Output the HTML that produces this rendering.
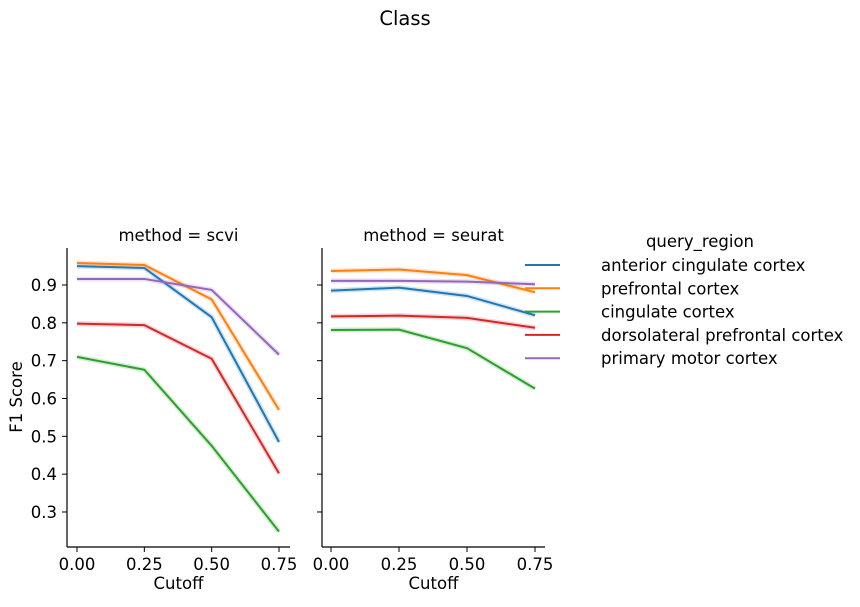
<!DOCTYPE html>
<html><head><meta charset="utf-8"><style>
body{margin:0;background:#fff;font-family:"Liberation Sans","DejaVu Sans",sans-serif;}
text{font-family:"DejaVu Sans","Liberation Sans",sans-serif;}
</style></head><body>
<svg id="chart" width="860" height="602" xmlns="http://www.w3.org/2000/svg">
<text x="405" y="25" font-size="19.5" text-anchor="middle">Class</text>
<g id="plotRoot"></g>
</svg>
<script>
const cutoffs=[0,0.25,0.5,0.75];
const seriesNames=["anterior cingulate cortex","prefrontal cortex","cingulate cortex","dorsolateral prefrontal cortex","primary motor cortex"];
const colors=["#1f77b4","#ff7f0e","#2ca02c","#d62728","#9467bd"];
const scviBlue=[0.95,0.945,0.815,0.485];
const scviOrange=[0.958,0.953,0.862,0.57];
const scviGreen=[0.71,0.676,0.475,0.248];
const scviRed=[0.798,0.794,0.705,0.402];
const scviPurple=[0.916,0.916,0.887,0.716];
const seuratBlue=[0.885,0.893,0.871,0.82];
const seuratOrange=[0.937,0.941,0.926,0.881];
const seuratGreen=[0.781,0.782,0.733,0.626];
const seuratRed=[0.817,0.819,0.813,0.787];
const seuratPurple=[0.911,0.911,0.909,0.902];
const yTicks=[0.3,0.4,0.5,0.6,0.7,0.8,0.9];
const xTicks=[0,0.25,0.5,0.75];
const xTickLabels=["0.00","0.25","0.50","0.75"];
const panels=[{title:"method = scvi",x0:77,x1:279,sl:67,sr:290,data:[scviBlue,scviOrange,scviGreen,scviRed,scviPurple],ylab:true},
{title:"method = seurat",x0:331,x1:535,sl:322,sr:545,data:[seuratBlue,seuratOrange,seuratGreen,seuratRed,seuratPurple],ylab:false}];
const NS="http://www.w3.org/2000/svg";
const root=document.getElementById("plotRoot");
const FS=16.5;
function yScale(v){return 285+(0.9-v)*378.3;}
function mk(t,a,p){const e=document.createElementNS(NS,t);for(const k in a)e.setAttribute(k,a[k]);(p||root).appendChild(e);return e;}
const axTop=248,axBot=547;
panels.forEach((P,pi)=>{
 const xs=v=>P.x0+(v/0.75)*(P.x1-P.x0);
 const pg=mk("g",{});
 
 
 const t=mk("text",{x:(P.sl+P.sr)/2,y:241,"font-size":FS,"text-anchor":"middle"},pg);t.textContent=P.title;
 
 
 const ya=mk("line",{x1:P.sl,y1:axTop,x2:P.sl,y2:axBot,stroke:"#000","stroke-width":1.2},pg);
 
 
 const xa=mk("line",{x1:P.sl,y1:axBot,x2:P.sr,y2:axBot,stroke:"#000","stroke-width":1.2},pg);
 
 
 yTicks.forEach(v=>{mk("line",{x1:P.sl-5,y1:yScale(v),x2:P.sl,y2:yScale(v),stroke:"#000"},pg);
  if(P.ylab){const tt=mk("text",{x:P.sl-10,y:yScale(v)+6,"font-size":FS,"text-anchor":"end"},pg);tt.textContent=v.toFixed(1);
  
  }});
 xTicks.forEach((v,i)=>{mk("line",{x1:xs(v),y1:axBot,x2:xs(v),y2:axBot+5,stroke:"#000"},pg);
  const tt=mk("text",{x:xs(v),y:axBot+23,"font-size":FS,"text-anchor":"middle"},pg);tt.textContent=xTickLabels[i];
  
  });
 const xl=mk("text",{x:(P.sl+P.sr)/2,y:589,"font-size":FS,"text-anchor":"middle"},pg);xl.textContent="Cutoff";
 
 
 P.data.forEach((d,si)=>{
  const pts=d.map((v,i)=>xs(cutoffs[i])+","+yScale(v)).join(" ");
  mk("polyline",{points:pts,fill:"none",stroke:colors[si],"stroke-width":5,"stroke-opacity":0.2},pg);
  const l=mk("polyline",{points:pts,fill:"none",stroke:colors[si],"stroke-width":2},pg);
  
  
 });
});
const yt=mk("text",{x:22,y:397,"font-size":FS,"text-anchor":"middle",transform:"rotate(-90 22 397)"});yt.textContent="F1 Score";


const lg=mk("g",{});


const lt=mk("text",{x:700,y:247,"font-size":FS,"text-anchor":"middle"},lg);lt.textContent="query_region";
seriesNames.forEach((n,i)=>{const yy=265+i*23.3;
 const e=mk("g",{},lg);
 
 
 mk("line",{x1:525,y1:yy,x2:560,y2:yy,stroke:colors[i],"stroke-width":2},e);
 const tx=mk("text",{x:601,y:yy+6,"font-size":FS},e);tx.textContent=n;});
</script>
</body></html>
